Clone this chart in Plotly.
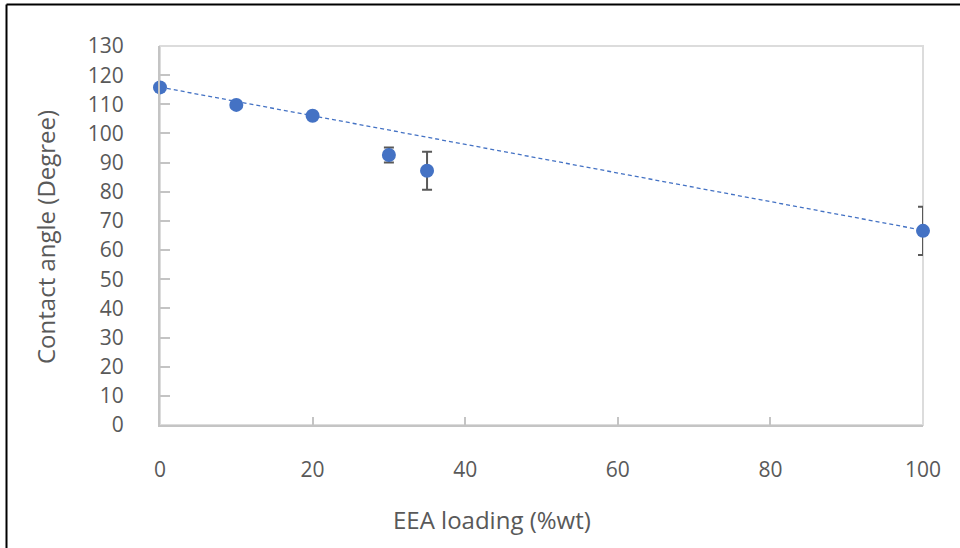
import plotly.graph_objects as go

# Data
eea_loading = [0, 10, 20, 30, 35, 100]
contact_angle = [115.8, 109.8, 106.1, 92.6, 87.2, 66.6]
angle_error = [0.8, 0.8, 0.8, 2.6, 6.5, 8.3]
trend_x = [0, 100]
trend_y = [115.9, 66.8]
x_ticks = [0, 20, 40, 60, 80, 100]
y_ticks = [0, 10, 20, 30, 40, 50, 60, 70, 80, 90, 100, 110, 120, 130]

W, H = 960, 548
L, R, T, B = 160, 37, 46, 123
pw, ph = W - L - R, H - T - B

def px_x(p):
    return (p - L) / pw

def px_y(p):
    return (H - B - p) / ph

FONT = "Open Sans"
GREY = "#595959"
BLUE = "#4472C4"

fig = go.Figure()
fig.add_trace(go.Scatter(
    x=trend_x, y=trend_y, mode="lines",
    line=dict(color=BLUE, width=1.3, dash="4px,3px"),
    hoverinfo="skip", showlegend=False,
))
fig.add_trace(go.Scatter(
    x=eea_loading, y=contact_angle, mode="markers",
    marker=dict(color=BLUE, size=14),
    error_y=dict(type="data", array=angle_error, visible=True,
                 color=GREY, thickness=2, width=5),
    cliponaxis=False, showlegend=False,
))

fig.update_layout(
    width=W, height=H,
    margin=dict(l=L, r=R, t=T, b=B),
    paper_bgcolor="white", plot_bgcolor="white",
    font=dict(family=FONT, color=GREY, size=21),
    xaxis=dict(range=[0, 100], tickvals=x_ticks, showgrid=False, zeroline=False,
               showline=True, linecolor="#c4c4c4", linewidth=2,
               ticks="inside", ticklen=8, tickcolor="#c4c4c4", tickwidth=2,
               ticklabelstandoff=25, tickfont=dict(size=21, color=GREY)),
    yaxis=dict(range=[0, 130], tickvals=y_ticks, showgrid=False, zeroline=False,
               showline=True, linecolor="#c4c4c4", linewidth=2,
               ticks="inside", ticklen=10, tickcolor="#c4c4c4", tickwidth=2,
               ticklabelstandoff=30, tickfont=dict(size=21, color=GREY)),
    shapes=[
        dict(type="rect", xref="paper", yref="paper", x0=0, x1=1, y0=0, y1=1,
             line=dict(color="#dcdcdc", width=2), layer="below"),
        dict(type="line", xref="paper", yref="paper",
             x0=px_x(6.5), x1=px_x(6.5), y0=px_y(4.5), y1=px_y(560),
             line=dict(color="black", width=2)),
        dict(type="line", xref="paper", yref="paper",
             x0=px_x(6.5), x1=px_x(970), y0=px_y(4.5), y1=px_y(4.5),
             line=dict(color="black", width=2)),
    ],
    annotations=[
        dict(text="EEA loading (%wt)", xref="paper", yref="paper",
             x=px_x(492), y=px_y(519), showarrow=False,
             xanchor="center", yanchor="middle",
             font=dict(family=FONT, size=24, color=GREY)),
        dict(text="Contact angle (Degree)", xref="paper", yref="paper",
             x=px_x(45), y=px_y(237), showarrow=False, textangle=-90,
             xanchor="center", yanchor="middle",
             font=dict(family=FONT, size=24, color=GREY)),
    ],
)

fig.write_html("out.html")
